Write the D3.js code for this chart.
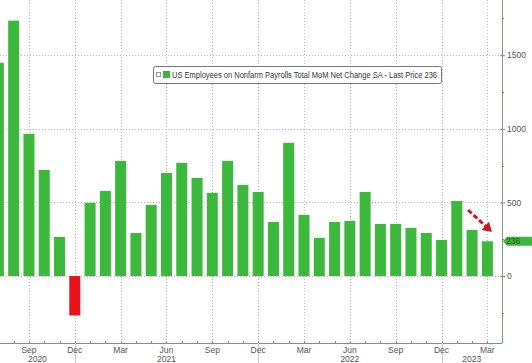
<!DOCTYPE html>
<html>
<head>
<meta charset="utf-8">
<script src="https://cdn.jsdelivr.net/npm/d3@7"></script>
<style>
  html, body { margin: 0; padding: 0; background: #fff; }
  svg { display: block; }
  text { font-family: "Liberation Sans Narrow", "Liberation Sans", Arial, sans-serif; }
</style>
</head>
<body>
<div id="chart"></div>
<script>
// months shown on the chart (one bar each)
const months = ['2020-07', '2020-08', '2020-09', '2020-10', '2020-11', '2020-12',
  '2021-01', '2021-02', '2021-03', '2021-04', '2021-05', '2021-06',
  '2021-07', '2021-08', '2021-09', '2021-10', '2021-11', '2021-12',
  '2022-01', '2022-02', '2022-03', '2022-04', '2022-05', '2022-06',
  '2022-07', '2022-08', '2022-09', '2022-10', '2022-11', '2022-12',
  '2023-01', '2023-02', '2023-03'];
// MoM net change in nonfarm payrolls (thousands)
const payrolls = [1449, 1735, 966, 721, 265, -268,
  497, 578, 782, 292, 483, 700,
  769, 667, 565, 782, 619, 571,
  367, 905, 415, 259, 367, 374,
  571, 354, 354, 327, 292, 245,
  510, 313, 236];
const majorTicks = [0, 500, 1000, 1500];
const minorTicks = [-250, 250, 750, 1250, 1750];
const monthNames = ['Jan', 'Feb', 'Mar', 'Apr', 'May', 'Jun', 'Jul', 'Aug', 'Sep', 'Oct', 'Nov', 'Dec'];
const lastPrice = 236;
const legendText = 'US Employees on Nonfarm Payrolls Total MoM Net Change SA - Last Price ' + lastPrice;

const width = 532;
const height = 363;
const plotRight = 502;
const axisY = 343;

const svg = d3.select('#chart')
  .append('svg')
  .attr('width', width)
  .attr('height', height);

// x: one band per month, bars centred in band
const xScale = d3.scaleBand()
  .domain(months)
  .range([-9.24, -9.24 + months.length * 15.28])
  .padding(0);
const cx = m => xScale(m) + xScale.bandwidth() / 2;
const barW = 11;

const yScale = d3.scaleLinear()
  .domain([-455, 1875])
  .range([axisY, 0]);

const monthOf = m => +m.slice(5, 7);
const quarterMonths = months.filter(m => [3, 6, 9, 12].includes(monthOf(m)));
const decMonths = months.filter(m => monthOf(m) === 12);

// horizontal gridlines
svg.append('g')
  .selectAll('line')
  .data(majorTicks)
  .enter()
  .append('line')
  .attr('x1', 0)
  .attr('x2', plotRight)
  .attr('y1', d => Math.round(yScale(d)) + 0.5)
  .attr('y2', d => Math.round(yScale(d)) + 0.5)
  .attr('stroke', '#b8b8b8')
  .attr('stroke-width', 1)
  .attr('stroke-dasharray', '1,2');

// vertical gridlines at quarter months
svg.append('g')
  .selectAll('line')
  .data(quarterMonths)
  .enter()
  .append('line')
  .attr('x1', d => Math.round(cx(d)) + 0.5)
  .attr('x2', d => Math.round(cx(d)) + 0.5)
  .attr('y1', 0)
  .attr('y2', axisY)
  .attr('stroke', '#b8b8b8')
  .attr('stroke-width', 1)
  .attr('stroke-dasharray', '1,2');

// bars
svg.append('g')
  .selectAll('rect')
  .data(months.map((m, i) => ({ m, v: payrolls[i] })))
  .enter()
  .append('rect')
  .attr('x', d => cx(d.m) - barW / 2)
  .attr('width', barW)
  .attr('y', d => yScale(Math.max(0, d.v)))
  .attr('height', d => Math.abs(yScale(d.v) - yScale(0)))
  .attr('fill', d => d.v < 0 ? '#e8121a' : '#3cb83c');

// x axis line and monthly ticks
svg.append('line')
  .attr('x1', 0).attr('x2', plotRight)
  .attr('y1', axisY + 0.5).attr('y2', axisY + 0.5)
  .attr('stroke', '#8a8a8a');

svg.append('g')
  .selectAll('line')
  .data(months)
  .enter()
  .append('line')
  .attr('x1', d => Math.round(cx(d)) + 0.5)
  .attr('x2', d => Math.round(cx(d)) + 0.5)
  .attr('y1', axisY - 2)
  .attr('y2', axisY + 1)
  .attr('stroke', '#8a8a8a');

// year separators below the axis
svg.append('g')
  .selectAll('line')
  .data(decMonths)
  .enter()
  .append('line')
  .attr('x1', d => Math.round(cx(d)) + 0.5)
  .attr('x2', d => Math.round(cx(d)) + 0.5)
  .attr('y1', axisY)
  .attr('y2', height)
  .attr('stroke', '#c8c8c8');

// month labels
svg.append('g')
  .selectAll('text')
  .data(quarterMonths)
  .enter()
  .append('text')
  .attr('x', d => cx(d))
  .attr('y', 353)
  .attr('text-anchor', 'middle')
  .attr('font-size', 8.5)
  .attr('fill', '#555')
  .text(d => monthNames[monthOf(d) - 1]);

// year labels centred between separators
const years = Array.from(new Set(months.map(m => m.slice(0, 4))));
const bounds = [0, ...decMonths.map(cx), plotRight];
svg.append('g')
  .selectAll('text')
  .data(years)
  .enter()
  .append('text')
  .attr('x', (d, i) => (bounds[i] + bounds[i + 1]) / 2)
  .attr('y', 362)
  .attr('text-anchor', 'middle')
  .attr('font-size', 8.5)
  .attr('fill', '#555')
  .text(d => d);

// right y axis
svg.append('line')
  .attr('x1', plotRight + 0.5).attr('x2', plotRight + 0.5)
  .attr('y1', 0).attr('y2', axisY)
  .attr('stroke', '#7fa07f');

const yAxis = d3.axisRight(yScale)
  .tickValues(majorTicks)
  .tickSize(3)
  .tickFormat(d3.format('d'));
const yAxisG = svg.append('g')
  .attr('transform', `translate(${plotRight}, 0)`)
  .call(yAxis);
yAxisG.select('.domain').remove();
yAxisG.selectAll('line').attr('stroke', '#7a8a7a').attr('x1', -2);
yAxisG.selectAll('text')
  .attr('x', 5)
  .attr('font-size', 8.5)
  .attr('font-family', '"Liberation Sans Narrow", "Liberation Sans", Arial, sans-serif')
  .attr('fill', '#555');

svg.append('g')
  .selectAll('line')
  .data(minorTicks)
  .enter()
  .append('line')
  .attr('x1', plotRight)
  .attr('x2', plotRight + 2)
  .attr('y1', d => Math.round(yScale(d)) + 0.5)
  .attr('y2', d => Math.round(yScale(d)) + 0.5)
  .attr('stroke', '#7a8a7a');

// last price tag
const tagY = yScale(lastPrice);
svg.append('path')
  .attr('d', `M${plotRight + 1},${tagY} L${plotRight + 5},${tagY - 4.5} L${width},${tagY - 4.5} L${width},${tagY + 4.5} L${plotRight + 5},${tagY + 4.5} Z`)
  .attr('fill', '#3cb83c');
svg.append('text')
  .attr('x', plotRight + 4)
  .attr('y', tagY + 3)
  .attr('font-size', 8.5)
  .attr('fill', '#2a4a2a')
  .text(lastPrice);

// legend
const lg = svg.append('g').attr('transform', 'translate(153, 66)');
lg.append('rect')
  .attr('x', 0.5).attr('y', 0.5)
  .attr('width', 288).attr('height', 17)
  .attr('rx', 2)
  .attr('fill', '#fff')
  .attr('stroke', '#777');
lg.append('rect')
  .attr('x', 3.5).attr('y', 6.5)
  .attr('width', 4).attr('height', 4)
  .attr('fill', 'none')
  .attr('stroke', '#999');
lg.append('rect')
  .attr('x', 10).attr('y', 5)
  .attr('width', 7).attr('height', 7)
  .attr('fill', '#3cb83c');
lg.append('text')
  .attr('x', 19)
  .attr('y', 12)
  .attr('font-size', 8.5)
  .attr('fill', '#333')
  .attr('textLength', 265)
  .attr('lengthAdjust', 'spacingAndGlyphs')
  .text(legendText);

// red dashed arrow with a large head
svg.append('line')
  .attr('x1', 468).attr('y1', 210)
  .attr('x2', 486).attr('y2', 226.5)
  .attr('stroke', '#d0161e')
  .attr('stroke-width', 3)
  .attr('stroke-dasharray', '5,2.5');
svg.append('path')
  .attr('d', 'M492,232 L481.6,229.9 L489,221.8 Z')
  .attr('fill', '#d0161e');
</script>
</body>
</html>
